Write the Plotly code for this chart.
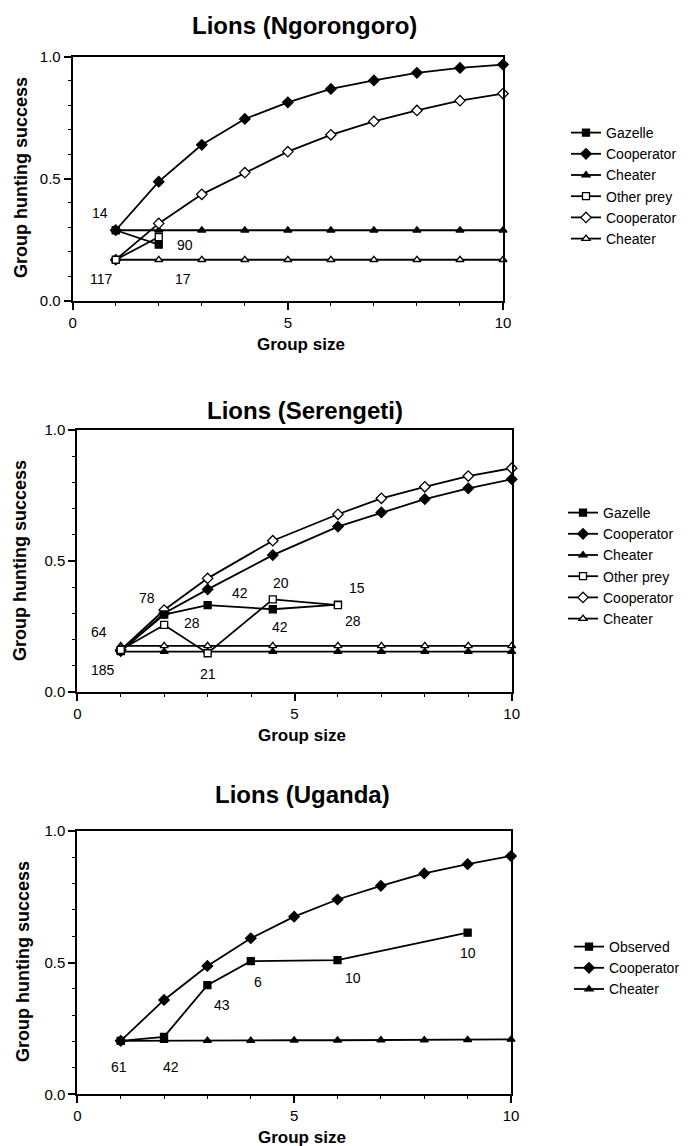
import plotly.graph_objects as go

# The page body has an 8px margin, so the figure is drawn at (8, 8).
OFF = 8
W, H = 688 - OFF, 1146 - OFF

# ---------------- Data: Lions (Ngorongoro) ----------------
ng_x = [1, 2, 3, 4, 5, 6, 7, 8, 9, 10]
ng_gazelle_x = [1, 2]
ng_gazelle = [0.288, 0.229]
ng_coop_gaz = [0.288, 0.487, 0.638, 0.744, 0.812, 0.867, 0.902, 0.933, 0.953, 0.967]
ng_cheat_gaz = [0.288, 0.288, 0.288, 0.288, 0.288, 0.288, 0.288, 0.288, 0.288, 0.288]
ng_other_x = [1, 2]
ng_other = [0.167, 0.260]
ng_coop_other = [0.167, 0.316, 0.435, 0.524, 0.610, 0.679, 0.734, 0.779, 0.819, 0.848]
ng_cheat_other = [0.167, 0.167, 0.167, 0.167, 0.167, 0.167, 0.167, 0.167, 0.167, 0.167]
ng_labels = ["14", "117", "90", "17"]
ng_label_x = [0.63, 0.67, 2.6, 2.57]
ng_label_y = [0.358, 0.09, 0.226, 0.09]

# ---------------- Data: Lions (Serengeti) ----------------
se_x = [1, 2, 3, 4.5, 6, 7, 8, 9, 10]
se_gazelle_x = [1, 2, 3, 4.5, 6]
se_gazelle = [0.155, 0.295, 0.331, 0.315, 0.333]
se_coop_gaz = [0.155, 0.300, 0.391, 0.522, 0.631, 0.685, 0.736, 0.777, 0.812]
se_cheat_gaz = [0.153, 0.153, 0.153, 0.153, 0.153, 0.153, 0.153, 0.153, 0.153]
se_other_x = [1, 2, 3, 4.5, 6]
se_other = [0.160, 0.255, 0.147, 0.353, 0.331]
se_coop_other = [0.160, 0.312, 0.433, 0.577, 0.678, 0.739, 0.783, 0.824, 0.854]
se_cheat_other = [0.175, 0.175, 0.175, 0.175, 0.175, 0.175, 0.175, 0.175, 0.175]
se_labels = ["64", "185", "78", "28", "21", "42", "20", "42", "15", "28"]
se_label_x = [0.51, 0.6, 1.61, 2.64, 3.02, 3.75, 4.69, 4.67, 6.44, 6.35]
se_label_y = [0.23, 0.083, 0.357, 0.264, 0.068, 0.378, 0.414, 0.246, 0.395, 0.27]

# ---------------- Data: Lions (Uganda) ----------------
ug_x = [1, 2, 3, 4, 5, 6, 7, 8, 9, 10]
ug_obs_x = [1, 2, 3, 4, 6, 9]
ug_obs = [0.203, 0.218, 0.414, 0.505, 0.509, 0.613]
ug_coop = [0.203, 0.358, 0.487, 0.592, 0.674, 0.739, 0.791, 0.838, 0.873, 0.904]
ug_cheat = [0.203, 0.204, 0.204, 0.204, 0.205, 0.205, 0.206, 0.206, 0.207, 0.208]
ug_labels = ["61", "42", "43", "6", "10", "10"]
ug_label_x = [0.96, 2.15, 3.33, 4.17, 6.36, 9.01]
ug_label_y = [0.105, 0.105, 0.339, 0.427, 0.44, 0.535]

x_ticks = [0, 5, 10]
y_ticks = [0, 0.5, 1.0]
y_ticktext = ["0.0", "0.5", "1.0"]

FONT = "Liberation Sans, Arial, Helvetica, sans-serif"
BLACK = "#000000"


def px(x):
    return (x - OFF) / W


def py(y):
    return 1 - (y - OFF) / H


fig = go.Figure()


def add(xs, ys, name, symbol, filled, axis_n, legend, rank, size=7):
    fig.add_trace(go.Scatter(
        x=xs, y=ys, name=name, mode="lines+markers",
        line=dict(color=BLACK, width=1.8),
        marker=dict(symbol=symbol, size=size,
                    color=BLACK if filled else "white",
                    line=dict(color=BLACK, width=1.3)),
        xaxis="x" if axis_n == 1 else f"x{axis_n}",
        yaxis="y" if axis_n == 1 else f"y{axis_n}",
        legend=legend, legendrank=rank, cliponaxis=False,
    ))


# Panel 1
add(ng_x, ng_cheat_other, "Cheater", "triangle-up", False, 1, "legend", 6)
add(ng_x, ng_cheat_gaz, "Cheater", "triangle-up", True, 1, "legend", 3)
add(ng_x, ng_coop_other, "Cooperator", "diamond", False, 1, "legend", 5, 8)
add(ng_x, ng_coop_gaz, "Cooperator", "diamond", True, 1, "legend", 2, 8)
add(ng_other_x, ng_other, "Other prey", "square", False, 1, "legend", 4)
add(ng_gazelle_x, ng_gazelle, "Gazelle", "square", True, 1, "legend", 1)

# Panel 2
add(se_x, se_cheat_gaz, "Cheater", "triangle-up", True, 2, "legend2", 3)
add(se_x, se_cheat_other, "Cheater", "triangle-up", False, 2, "legend2", 6)
add(se_x, se_coop_gaz, "Cooperator", "diamond", True, 2, "legend2", 2, 8)
add(se_x, se_coop_other, "Cooperator", "diamond", False, 2, "legend2", 5, 8)
add(se_gazelle_x, se_gazelle, "Gazelle", "square", True, 2, "legend2", 1)
add(se_other_x, se_other, "Other prey", "square", False, 2, "legend2", 4)

# Panel 3
add(ug_x, ug_cheat, "Cheater", "triangle-up", True, 3, "legend3", 3)
add(ug_x, ug_coop, "Cooperator", "diamond", True, 3, "legend3", 2, 8)
add(ug_obs_x, ug_obs, "Observed", "square", True, 3, "legend3", 1)

panels = [
    dict(x0=72.7, x1=503.0, y0=56.5, y1=300.5),
    dict(x0=77.3, x1=511.7, y0=430.0, y1=691.7),
    dict(x0=77.3, x1=511.0, y0=830.7, y1=1094.3),
]

layout = dict(
    width=W, height=H, margin=dict(l=0, r=0, t=0, b=0),
    paper_bgcolor="white", plot_bgcolor="white",
    font=dict(family=FONT, color=BLACK, size=15),
    showlegend=True,
)

for i, p in enumerate(panels, start=1):
    xs = "" if i == 1 else str(i)
    layout[f"xaxis{xs}"] = dict(
        domain=[px(p["x0"]), px(p["x1"])], range=[0, 10],
        anchor=f"y{xs}", tickvals=x_ticks, ticks="outside", ticklen=7, tickwidth=1.5,
        tickcolor=BLACK, showline=True, linecolor=BLACK, linewidth=2, mirror=True,
        showgrid=False, zeroline=False, automargin=False,
        tickfont=dict(size=15, family=FONT, color=BLACK),
        minor=dict(tickvals=[1, 2, 3, 4, 6, 7, 8, 9], ticks="outside", ticklen=3,
                   tickwidth=1.2, tickcolor=BLACK, showgrid=False),
    )
    layout[f"yaxis{xs}"] = dict(
        domain=[py(p["y1"]), py(p["y0"])], range=[0, 1],
        anchor=f"x{xs}", tickvals=y_ticks, ticktext=y_ticktext, ticks="outside",
        ticklen=7, tickwidth=1.5, tickcolor=BLACK, showline=True, linecolor=BLACK,
        linewidth=2, mirror=True, showgrid=False, zeroline=False, automargin=False,
        tickfont=dict(size=15, family=FONT, color=BLACK),
        minor=dict(tickvals=[0.1, 0.2, 0.3, 0.4, 0.6, 0.7, 0.8, 0.9], ticks="outside",
                   ticklen=3, tickwidth=1.2, tickcolor=BLACK, showgrid=False),
    )

leg_common = dict(font=dict(family=FONT, size=14, color=BLACK), bgcolor="rgba(0,0,0,0)",
                  xanchor="left", yanchor="top", itemsizing="trace",
                  traceorder="normal", tracegroupgap=0)
layout["legend"] = dict(x=px(566), y=py(117), **leg_common)
layout["legend2"] = dict(x=px(563), y=py(497), **leg_common)
layout["legend3"] = dict(x=px(569), y=py(931), **leg_common)

annotations = []


def text(x, y, s, size, bold=False, angle=0):
    annotations.append(dict(
        x=px(x), y=py(y), xref="paper", yref="paper", showarrow=False,
        text=f"<b>{s}</b>" if bold else s, textangle=angle,
        font=dict(family=FONT, size=size, color=BLACK),
        xanchor="center", yanchor="middle"))


titles = ["Lions (Ngorongoro)", "Lions (Serengeti)", "Lions (Uganda)"]
title_pos = [(304, 26), (305, 410), (302, 795)]
for t, (x, y) in zip(titles, title_pos):
    text(x, y, t, 24, bold=True)

for (x, y) in [(21, 178), (20, 561), (23, 962)]:
    text(x, y, "Group hunting success", 18, bold=True, angle=-90)
for (x, y) in [(301, 344), (302, 735), (302, 1137)]:
    text(x, y, "Group size", 17, bold=True)

for i, (labs, lx, ly) in enumerate([(ng_labels, ng_label_x, ng_label_y),
                                    (se_labels, se_label_x, se_label_y),
                                    (ug_labels, ug_label_x, ug_label_y)], start=1):
    xs = "" if i == 1 else str(i)
    for s, x, y in zip(labs, lx, ly):
        annotations.append(dict(
            x=x, y=y, xref=f"x{xs}", yref=f"y{xs}", showarrow=False, text=s,
            font=dict(family=FONT, size=14, color=BLACK),
            xanchor="center", yanchor="middle"))

layout["annotations"] = annotations
fig.update_layout(**layout)
fig.write_html("out.html")
